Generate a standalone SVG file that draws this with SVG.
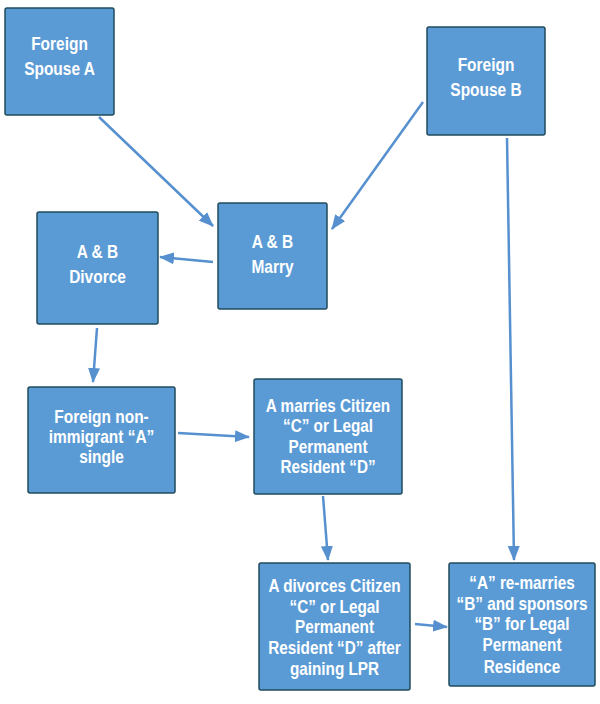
<svg xmlns="http://www.w3.org/2000/svg" width="600" height="704" viewBox="0 0 600 704">
<style>
.box{fill:#5b9bd5;stroke:#1f4b5c;stroke-width:1.5}
.t{font-family:"Liberation Sans",Arial,sans-serif;font-weight:bold;font-size:18px;fill:#ffffff;text-anchor:middle}
.c{stroke:#5690cf;stroke-width:2.5;fill:none;marker-end:url(#ah)}
</style>
<defs>
<marker id="ah" markerUnits="userSpaceOnUse" markerWidth="15" markerHeight="12" refX="14" refY="6" orient="auto" viewBox="0 0 15 12">
<path d="M0,0 L15,6 L0,12 z" fill="#5690cf"/>
</marker>
</defs>
<rect width="600" height="704" fill="#ffffff"/>
<g id="connectors">
<line class="c" x1="99" y1="117" x2="213" y2="226"/>
<line class="c" x1="423" y1="102" x2="332" y2="229"/>
<line class="c" x1="213" y1="262" x2="160" y2="257"/>
<line class="c" x1="97" y1="328" x2="93" y2="382"/>
<line class="c" x1="178" y1="433" x2="249" y2="437"/>
<line class="c" x1="323" y1="496" x2="328" y2="560"/>
<line class="c" x1="507" y1="138" x2="514" y2="560"/>
<line class="c" x1="415" y1="624" x2="447" y2="627"/>
</g>
<g id="spouseA">
<rect class="box" x="5" y="8" width="109" height="107" rx="2"/>
<g transform="translate(59.5 0) scale(0.86 1)">
<text class="t" x="0" y="50">Foreign</text>
<text class="t" x="0" y="75">Spouse A</text>
</g>
</g>
<g id="spouseB">
<rect class="box" x="427" y="27" width="118" height="108" rx="2"/>
<g transform="translate(486 0) scale(0.86 1)">
<text class="t" x="0" y="71">Foreign</text>
<text class="t" x="0" y="96">Spouse B</text>
</g>
</g>
<g id="marry">
<rect class="box" x="218" y="203" width="109" height="106" rx="2"/>
<g transform="translate(272.5 0) scale(0.86 1)">
<text class="t" x="0" y="248">A &amp; B</text>
<text class="t" x="0" y="273">Marry</text>
</g>
</g>
<g id="divorce">
<rect class="box" x="37" y="212" width="121" height="112" rx="2"/>
<g transform="translate(97.5 0) scale(0.86 1)">
<text class="t" x="0" y="258">A &amp; B</text>
<text class="t" x="0" y="283">Divorce</text>
</g>
</g>
<g id="single">
<rect class="box" x="28" y="387" width="147" height="106" rx="2"/>
<g transform="translate(101.5 0) scale(0.86 1)">
<text class="t" x="0" y="423">Foreign non-</text>
<text class="t" x="0" y="443">immigrant “A”</text>
<text class="t" x="0" y="463">single</text>
</g>
</g>
<g id="marriesC">
<rect class="box" x="254" y="379" width="148" height="115" rx="2"/>
<g transform="translate(328 0) scale(0.85 1)">
<text class="t" x="0" y="412">A marries Citizen</text>
<text class="t" x="0" y="432">“C” or Legal</text>
<text class="t" x="0" y="453">Permanent</text>
<text class="t" x="0" y="473">Resident “D”</text>
</g>
</g>
<g id="divorcesC">
<rect class="box" x="259" y="563" width="151" height="127" rx="2"/>
<g transform="translate(334.5 0) scale(0.85 1)">
<text class="t" x="0" y="592">A divorces Citizen</text>
<text class="t" x="0" y="613">“C” or Legal</text>
<text class="t" x="0" y="633">Permanent</text>
<text class="t" x="0" y="654">Resident “D” after</text>
<text class="t" x="0" y="675">gaining LPR</text>
</g>
</g>
<g id="remarries">
<rect class="box" x="449" y="563" width="146" height="123" rx="2"/>
<g transform="translate(522 0) scale(0.85 1)">
<text class="t" x="0" y="589">“A” re-marries</text>
<text class="t" x="0" y="610">“B” and sponsors</text>
<text class="t" x="0" y="630">“B” for Legal</text>
<text class="t" x="0" y="651">Permanent</text>
<text class="t" x="0" y="673">Residence</text>
</g>
</g>
</svg>
